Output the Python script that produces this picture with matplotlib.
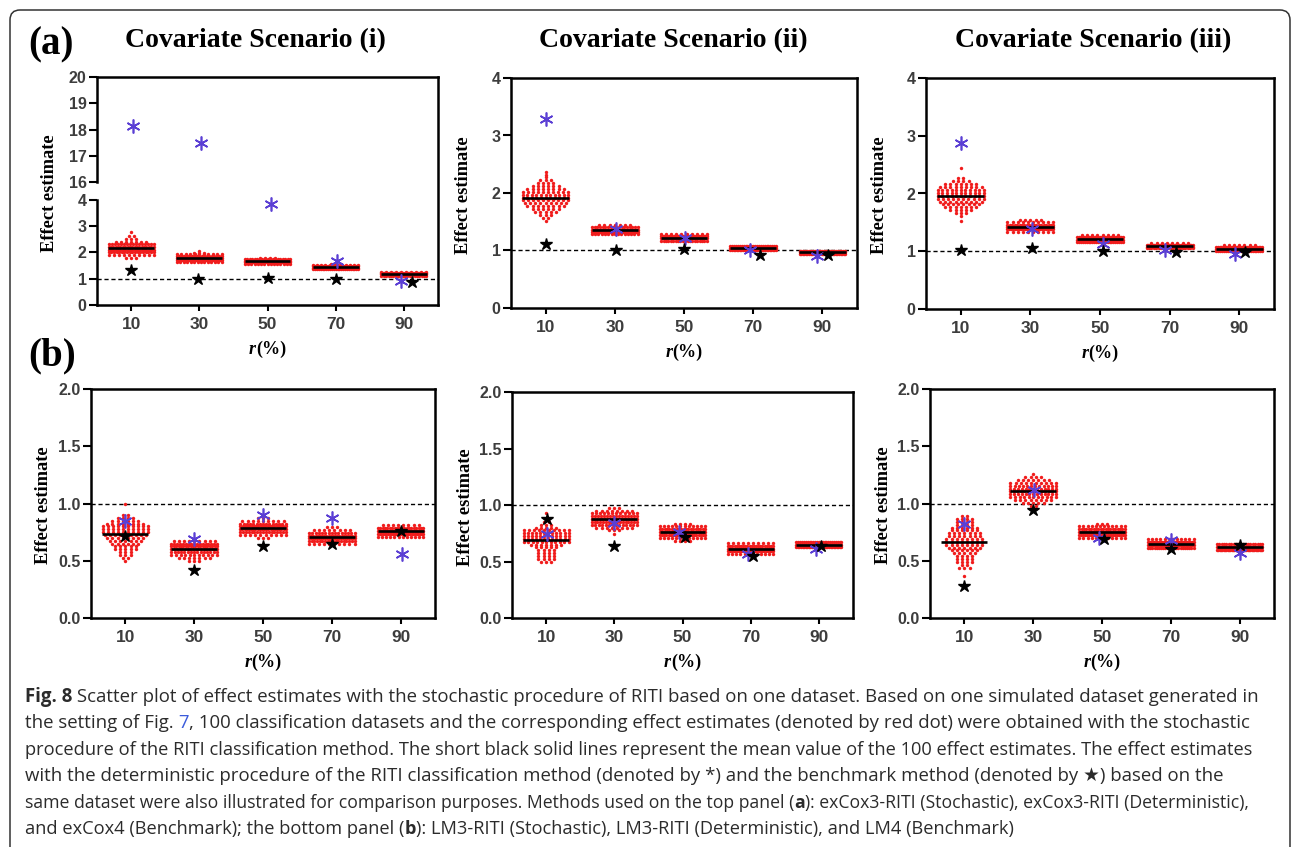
import numpy as np
import matplotlib
matplotlib.use('Agg')
import matplotlib.pyplot as plt
import matplotlib.transforms as mtransforms
from matplotlib.patches import FancyBboxPatch

W, H = 1292, 847
RED = '#f01c1c'
BLUE = '#5b3fd4'
LABEL_GRAY = '#3d3d3d'
SERIF = 'Liberation Serif'
SANS = 'Liberation Sans'
CAPTION_FONT = ['Open Sans', 'DejaVu Sans']

r_pct = [10, 30, 50, 70, 90]

# stochastic estimates: each swarm is given as row values and number of dots in each row
# (a) exCox3-RITI, covariate scenario (i)
a1_levels = [[1.8, 1.9, 2.0, 2.1, 2.2, 2.3, 2.4, 2.5, 2.6, 2.77],
             [1.64, 1.71, 1.78, 1.85, 1.92, 1.99, 2.05],
             [1.56, 1.62, 1.68, 1.74, 1.80],
             [1.37, 1.42, 1.47, 1.52, 1.56],
             [1.11, 1.16, 1.21, 1.26]]
a1_counts = [[3, 10, 18, 20, 20, 16, 7, 3, 2, 1],
             [14, 27, 25, 19, 11, 3, 1],
             [15, 30, 32, 19, 4],
             [25, 35, 25, 12, 3],
             [20, 38, 32, 10]]
a1_det = [18.15, 17.5, 3.85, 1.66, 0.92]
a1_det_x = [10.5, 30.6, 50.9, 70.3, 89.1]
a1_bench = [1.34, 0.99, 1.01, 0.99, 0.88]
a1_bench_x = [10, 29.7, 50, 70, 92.3]

# (a) scenario (ii)
a2_levels = [[1.52, 1.57, 1.62, 1.67, 1.72, 1.77, 1.82, 1.87, 1.92, 1.97, 2.02, 2.07, 2.12, 2.17, 2.22, 2.27, 2.32, 2.37],
             [1.28, 1.32, 1.36, 1.40, 1.44],
             [1.17, 1.21, 1.25, 1.29],
             [1.01, 1.04, 1.07],
             [0.945, 0.97, 0.995]]
a2_counts = [[1, 2, 3, 5, 6, 8, 9, 10, 11, 11, 10, 8, 6, 4, 3, 1, 1, 1],
             [15, 30, 30, 18, 7],
             [20, 40, 30, 10],
             [30, 45, 25],
             [30, 45, 25]]
a2_det = [3.28, 1.37, 1.21, 1.01, 0.91]
a2_det_x = [10, 30.4, 50.3, 69, 88.4]
a2_bench = [1.11, 1.01, 1.03, 0.93, 0.93]
a2_bench_x = [10, 30.3, 50, 72, 91.7]

# (a) scenario (iii)
a3_levels = [[1.53, 1.61, 1.66, 1.71, 1.76, 1.81, 1.86, 1.91, 1.96, 2.01, 2.06, 2.11, 2.16, 2.21, 2.27, 2.44],
             [1.34, 1.38, 1.42, 1.46, 1.50, 1.54],
             [1.16, 1.20, 1.24, 1.28],
             [1.05, 1.08, 1.11, 1.14],
             [1.01, 1.04, 1.07, 1.10]]
a3_counts = [[1, 1, 3, 5, 7, 8, 9, 10, 11, 11, 11, 9, 7, 4, 2, 1],
             [10, 25, 30, 20, 10, 5],
             [25, 40, 27, 8],
             [20, 40, 32, 8],
             [25, 40, 28, 7]]
a3_det = [2.88, 1.38, 1.13, 1.02, 0.96]
a3_det_x = [10, 30.5, 50.9, 68.8, 88.7]
a3_bench = [1.02, 1.05, 1.01, 0.98, 0.98]
a3_bench_x = [10, 30.5, 50.9, 71.9, 91.7]

# (b) LM3-RITI, scenario (i)
b1_levels = [[0.50, 0.525, 0.55, 0.575, 0.60, 0.625, 0.65, 0.675, 0.70, 0.725, 0.75, 0.775, 0.80, 0.825, 0.85, 0.875, 0.90, 1.0],
             [0.50, 0.525, 0.55, 0.575, 0.60, 0.625, 0.65, 0.675],
             [0.70, 0.725, 0.75, 0.775, 0.80, 0.825, 0.85, 0.875],
             [0.645, 0.67, 0.695, 0.72, 0.745, 0.77, 0.795],
             [0.71, 0.735, 0.76, 0.785, 0.81]]
b1_counts = [[1, 2, 3, 3, 5, 5, 6, 7, 8, 9, 10, 10, 10, 8, 6, 4, 2, 1],
             [3, 7, 11, 15, 18, 20, 17, 9],
             [3, 10, 17, 22, 21, 15, 9, 3],
             [10, 18, 24, 22, 15, 8, 3],
             [12, 28, 32, 20, 8]]
b1_det = [0.85, 0.69, 0.90, 0.87, 0.56]
b1_det_x = [10, 30, 50, 70, 90.3]
b1_bench = [0.72, 0.42, 0.63, 0.65, 0.76]
b1_bench_x = [10, 30, 50, 70, 90]

# (b) scenario (ii)
b2_levels = [[0.5, 0.525, 0.55, 0.575, 0.6, 0.625, 0.65, 0.675, 0.7, 0.725, 0.75, 0.775, 0.8, 0.825, 0.85, 0.875, 0.925],
             [0.74, 0.775, 0.8, 0.825, 0.85, 0.875, 0.9, 0.925, 0.95, 0.975],
             [0.685, 0.71, 0.735, 0.76, 0.785, 0.81, 0.835],
             [0.565, 0.59, 0.615, 0.64, 0.665],
             [0.625, 0.65, 0.675]]
b2_counts = [[3, 4, 4, 4, 4, 5, 7, 11, 12, 12, 12, 10, 5, 3, 2, 1, 1],
             [1, 3, 8, 14, 17, 18, 16, 12, 8, 3],
             [4, 12, 22, 26, 20, 12, 4],
             [12, 26, 30, 22, 10],
             [30, 45, 25]]
b2_det = [0.745, 0.84, 0.76, 0.57, 0.615]
b2_det_x = [10.2, 30, 49.1, 69.2, 89.2]
b2_bench = [0.88, 0.64, 0.715, 0.55, 0.635]
b2_bench_x = [10.2, 29.8, 50.7, 70.8, 90.5]

# (b) scenario (iii)
b3_levels = [[0.37, 0.44, 0.465, 0.49, 0.515, 0.54, 0.565, 0.59, 0.615, 0.64, 0.665, 0.69, 0.715, 0.74, 0.765, 0.79, 0.815, 0.84, 0.865, 0.89],
             [0.98, 1.005, 1.03, 1.055, 1.08, 1.105, 1.13, 1.155, 1.18, 1.205, 1.23, 1.255],
             [0.70, 0.725, 0.75, 0.775, 0.80, 0.82],
             [0.615, 0.64, 0.665, 0.69],
             [0.595, 0.62, 0.645]]
b3_counts = [[1, 3, 2, 4, 4, 4, 5, 6, 7, 8, 8, 8, 7, 7, 6, 6, 4, 4, 4, 2],
             [2, 5, 8, 11, 13, 14, 13, 12, 10, 7, 4, 1],
             [12, 25, 28, 20, 12, 3],
             [22, 36, 30, 12],
             [35, 45, 20]]
b3_det = [0.825, 1.12, 0.70, 0.685, 0.565]
b3_det_x = [10, 30.2, 49.2, 70, 90]
b3_bench = [0.28, 0.94, 0.69, 0.60, 0.635]
b3_bench_x = [10, 30, 50.7, 70, 90]

top_titles = ['Covariate Scenario (i)', 'Covariate Scenario (ii)', 'Covariate Scenario (iii)']

caption_lines = [
    [('Fig. 8', 'bold'), (' Scatter plot of effect estimates with the stochastic procedure of RITI based on one dataset. Based on one simulated dataset generated in', None)],
    [('the setting of Fig.', None), (' 7', 'link'), (', 100 classification datasets and the corresponding effect estimates (denoted by red dot) were obtained with the stochastic', None)],
    [('procedure of the RITI classification method. The short black solid lines represent the mean value of the 100 effect estimates. The effect estimates', None)],
    [('with the deterministic procedure of the RITI classification method (denoted by *) and the benchmark method (denoted by \u2605) based on the', None)],
    [('same dataset were also illustrated for comparison purposes. Methods used on the top panel (', None), ('a', 'bold'), ('): exCox3-RITI (Stochastic), exCox3-RITI (Deterministic),', None)],
    [('and exCox4 (Benchmark); the bottom panel (', None), ('b', 'bold'), ('): LM3-RITI (Stochastic), LM3-RITI (Deterministic), and LM4 (Benchmark)', None)],
]
# right end of each caption line, in pixels
caption_ends = [1259, 1263, 1255, 1228, 1253, 1016]

fig = plt.figure(figsize=(W / 100, H / 100), dpi=100)
renderer = fig.canvas.get_renderer()


def px_box(left, top, right, bottom):
    return [left / W, 1 - bottom / H, (right - left) / W, (bottom - top) / H]


def text_width(s, **props):
    # bars on both sides so leading/trailing spaces are counted
    t = fig.text(0, 0, '|' + s + '|', **props)
    b = fig.text(0, 0, '||', **props)
    w = t.get_window_extent(renderer).width - b.get_window_extent(renderer).width
    t.remove()
    b.remove()
    return w


def draw_runs(x, y, runs, ha='left', **common):
    widths = [text_width(s, **common, **p) for s, p in runs]
    if ha == 'center':
        x = x - sum(widths) / 2
    for (s, p), w in zip(runs, widths):
        fig.text(x / W, 1 - y / H, s, ha='left', va='baseline', **common, **p)
        x += w


def runs_width(runs, **common):
    return sum(text_width(s, **common, **p) for s, p in runs)


# y axis of the first panel is cut between 4 and 16
GAP = 0.65


def squeeze(y):
    return np.interp(y, [-100, 4, 16, 100], [-100, 4, 4 + GAP, 88 + GAP])


def unsqueeze(v):
    return np.interp(v, [-100, 4, 4 + GAP, 88 + GAP], [-100, 4, 16, 100])


def swarm(ax, x0, levels, counts, dx=1.5, half=6.6):
    xs, ys = [], []
    for lv, n in zip(levels, counts):
        step = dx if n < 2 else min(dx, 2 * half / (n - 1))
        off = (np.arange(n) - (n - 1) / 2) * step
        xs.extend(x0 + off)
        ys.extend([lv] * n)
    ax.scatter(xs, ys, s=6, color=RED, linewidths=0, zorder=2, clip_on=False)
    return np.average(levels, weights=counts)


def draw_panel(box, levels, counts, det, det_x, bench, bench_x, ylim, yticks, fmt, broken=False):
    ax = fig.add_axes(px_box(*box))
    if broken:
        ax.set_yscale('function', functions=(squeeze, unsqueeze))
    ax.axhline(1, color='k', lw=1.0, ls=(0, (3, 2)), zorder=1)
    for x0, lv, ct in zip(r_pct, levels, counts):
        m = swarm(ax, x0, lv, ct)
        ax.plot([x0 - 6.7, x0 + 6.7], [m, m], color='k', lw=1.9, solid_capstyle='butt', zorder=3)
    ax.plot(det_x, det, ls='none', marker=(6, 2, 0), ms=10, color=BLUE, mew=1.2, zorder=4)
    ax.plot(bench_x, bench, ls='none', marker='*', ms=9, color='k', zorder=5)
    ax.set_xlim(0, 100)
    ax.set_ylim(*ylim)
    ax.set_xticks(r_pct)
    ax.set_xticklabels([str(r) for r in r_pct])
    ax.set_yticks(yticks)
    ax.set_yticklabels([fmt.format(v) for v in yticks])
    for lab in ax.get_xticklabels() + ax.get_yticklabels():
        lab.set_fontfamily(SANS)
        lab.set_fontweight('bold')
        lab.set_color(LABEL_GRAY)
    ax.tick_params(axis='x', length=4.5, width=1.5, pad=4, labelsize=12.5)
    ax.tick_params(axis='y', length=6, width=1.5, pad=1.5, labelsize=11.5)
    for sp in ax.spines.values():
        sp.set_linewidth(1.8)
    if broken:
        ax.spines['left'].set_bounds(0, 4)
        trans = mtransforms.blended_transform_factory(ax.transAxes, ax.transData)
        ax.plot([0, 0], [16, 20], color='k', lw=1.8, transform=trans, clip_on=False,
                solid_capstyle='projecting', zorder=6)
    left, top, right, bottom = box
    fig.text((left - 47) / W, 1 - ((top + bottom) / 2 + 2) / H, 'Effect estimate', rotation=90,
             ha='center', va='center', family=SERIF, weight='bold', size=13.3)
    draw_runs((left + right) / 2, bottom + 49,
              [('r', dict(style='italic')), ('(%)', {})],
              ha='center', family=SERIF, weight='bold', size=13)
    return ax


a_ticks = [0, 1, 2, 3, 4]
a1_ticks = [0, 1, 2, 3, 4, 16, 17, 18, 19, 20]
b_ticks = [0.0, 0.5, 1.0, 1.5, 2.0]

draw_panel((97, 77, 438, 305), a1_levels, a1_counts, a1_det, a1_det_x, a1_bench, a1_bench_x,
           (0, 20), a1_ticks, '{:d}', broken=True)
draw_panel((511, 78, 857, 308), a2_levels, a2_counts, a2_det, a2_det_x, a2_bench, a2_bench_x,
           (0, 4), a_ticks, '{:d}')
draw_panel((926, 78, 1274, 309), a3_levels, a3_counts, a3_det, a3_det_x, a3_bench, a3_bench_x,
           (0, 4), a_ticks, '{:d}')
draw_panel((91, 389, 435, 618), b1_levels, b1_counts, b1_det, b1_det_x, b1_bench, b1_bench_x,
           (0, 2), b_ticks, '{:.1f}')
draw_panel((512, 392, 853, 618), b2_levels, b2_counts, b2_det, b2_det_x, b2_bench, b2_bench_x,
           (0, 2), b_ticks, '{:.1f}')
draw_panel((930, 389, 1274, 618), b3_levels, b3_counts, b3_det, b3_det_x, b3_bench, b3_bench_x,
           (0, 2), b_ticks, '{:.1f}')

# scenario titles and panel letters
for cx, title in zip([255, 673, 1093], top_titles):
    fig.text(cx / W, 1 - 47 / H, title, ha='center', va='baseline', family=SERIF, weight='bold', size=20)
fig.text(28 / W, 1 - 54 / H, '(a)', ha='left', va='baseline', family=SERIF, weight='bold', size=28)
fig.text(28 / W, 1 - 365 / H, '(b)', ha='left', va='baseline', family=SERIF, weight='bold', size=28)

# caption, each line sized to run from the left margin to its end point
styles = {None: dict(color='#2b2b2b'),
          'bold': dict(color='#2b2b2b', weight='bold'),
          'link': dict(color='#3b5bdb')}
for i, (line, x_end) in enumerate(zip(caption_lines, caption_ends)):
    runs = [(s, styles[k]) for s, k in line]
    w = runs_width(runs, family=CAPTION_FONT, size=13.4)
    size = min(13.4, 13.4 * (x_end - 25) / w)
    draw_runs(25, 702 + 26.4 * i, runs, family=CAPTION_FONT, size=size)

# rounded frame around the whole figure
frame = FancyBboxPatch((0.10, -0.2), 12.80, H / 100 - 0.10 + 0.2,
                       boxstyle='round,pad=0,rounding_size=0.1',
                       transform=fig.dpi_scale_trans, fill=False, lw=1.1, ec='#333333')
fig.add_artist(frame)

fig.savefig('out.png', dpi=100)
